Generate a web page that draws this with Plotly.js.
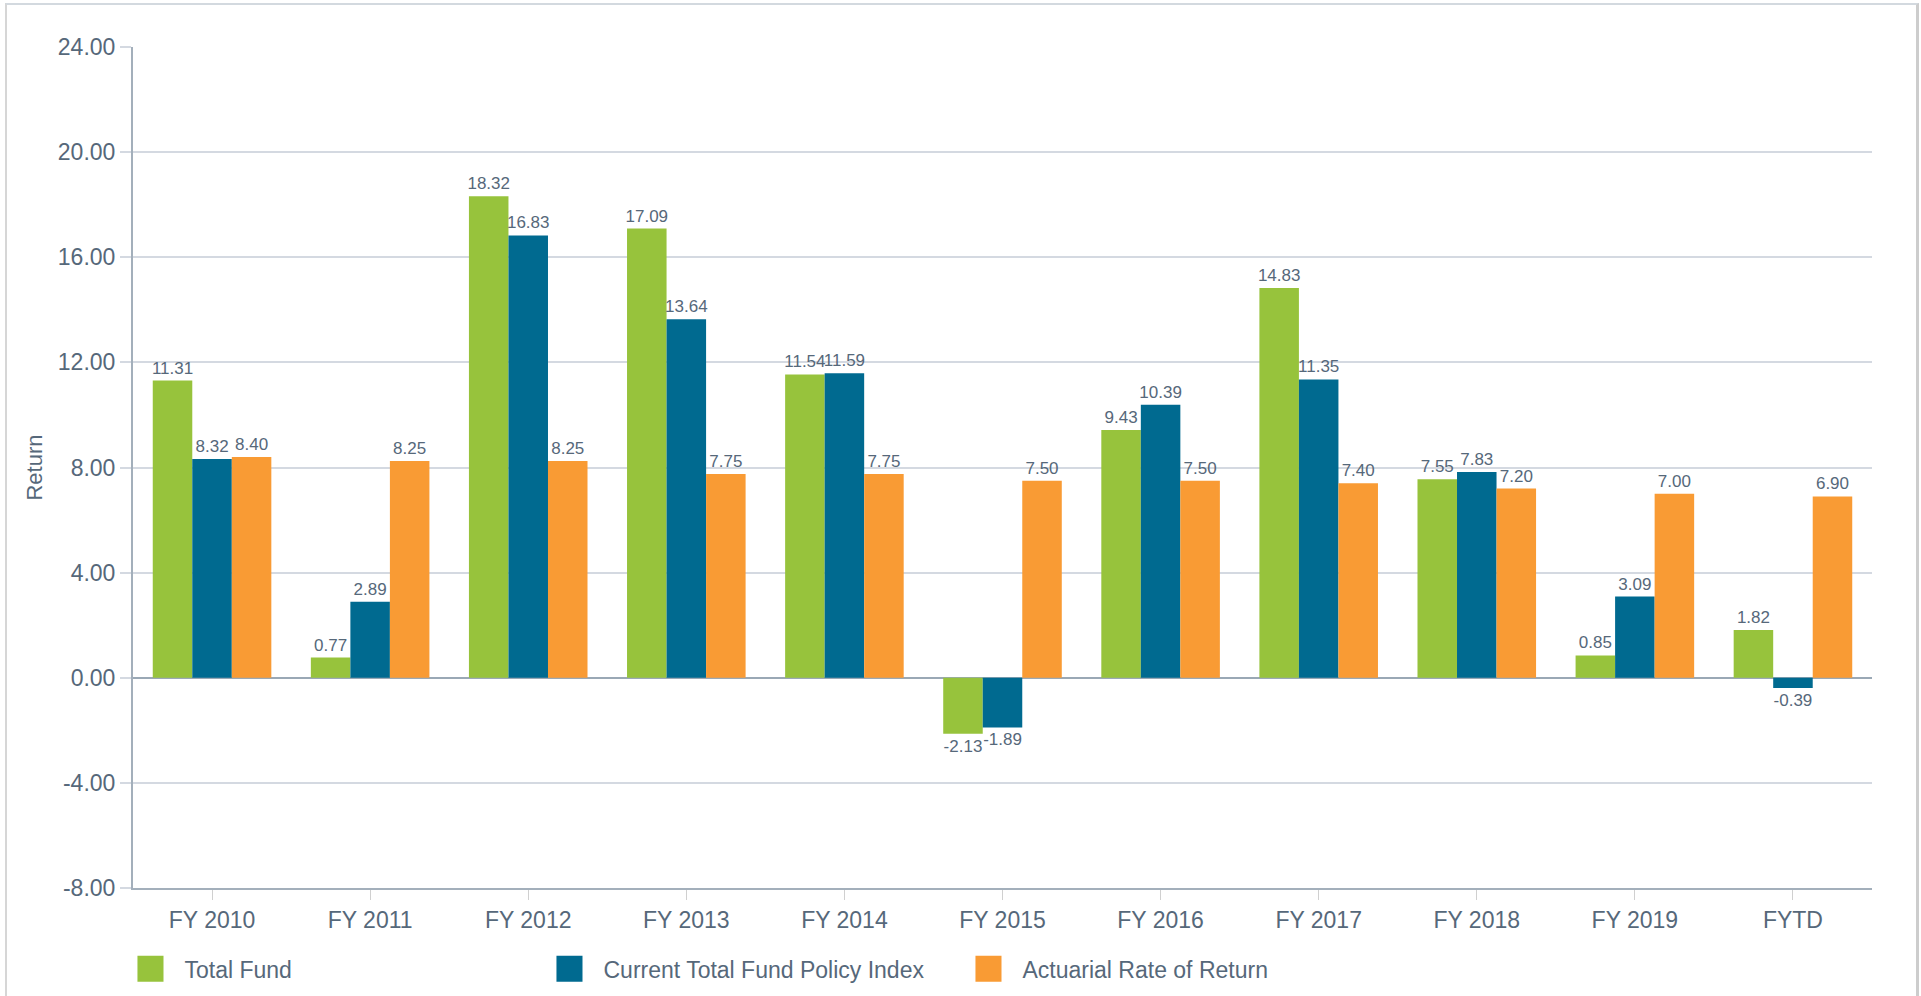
<!DOCTYPE html>
<html>
<head>
<meta charset="utf-8">
<script src="https://cdn.plot.ly/plotly-3.0.1.min.js"></script>
<style>
  html, body { margin: 0; padding: 0; background: #fff; overflow: hidden; }
  #chart { width: 1921px; height: 996px; }
  #frame { position: absolute; left: 5px; top: 3px; width: 1909px; height: 1010px;
           border-left: 2px solid #d6d6d6; border-top: 2px solid #d3d9df; border-right: 3px solid #cdcdcd;
           pointer-events: none; }
  .legend .legendpoints path { transform-box: fill-box; transform-origin: center; transform: translate(34px, 0px) scale(2.17); }
</style>
</head>
<body>
<div id="chart"></div>
<div id="frame"></div>
<script>
const categories = ["FY 2010", "FY 2011", "FY 2012", "FY 2013", "FY 2014", "FY 2015", "FY 2016", "FY 2017", "FY 2018", "FY 2019", "FYTD"];
const totalFund = [11.31, 0.77, 18.32, 17.09, 11.54, -2.13, 9.43, 14.83, 7.55, 0.85, 1.82];
const policyIndex = [8.32, 2.89, 16.83, 13.64, 11.59, -1.89, 10.39, 11.35, 7.83, 3.09, -0.39];
const actuarialRate = [8.40, 8.25, 8.25, 7.75, 7.75, 7.50, 7.50, 7.40, 7.20, 7.00, 6.90];
const seriesNames = ["Total Fund", "Current Total Fund Policy Index", "Actuarial Rate of Return"];
const yTickValues = [-8, -4, 0, 4, 8, 12, 16, 20, 24];
const yTickLabels = ["-8.00", "-4.00", "0.00", "4.00", "8.00", "12.00", "16.00", "20.00", "24.00"];

const textColor = "#56687a";
const fontFamily = "'Liberation Sans', Arial, sans-serif";
const colors = ["#97c33c", "#006a90", "#f99b34"];
const seriesValues = [totalFund, policyIndex, actuarialRate];

const traces = seriesValues.map((vals, i) => ({
  type: "bar",
  name: seriesNames[i],
  x: categories,
  y: vals,
  marker: { color: colors[i] },
  text: vals.map(v => v.toFixed(2)),
  texttemplate: "%{text}",
  textposition: "outside",
  constraintext: "none",
  cliponaxis: false,
  textfont: { family: fontFamily, size: 17, color: textColor },
  hoverinfo: "x+y+name"
}));

const layout = {
  width: 1921,
  height: 996,
  margin: { l: 133, r: 49, t: 47, b: 108, autoexpand: false },
  paper_bgcolor: "#ffffff",
  plot_bgcolor: "#ffffff",
  barmode: "group",
  bargap: 0.25,
  bargroupgap: 0,
  font: { family: fontFamily, color: textColor, size: 23 },
  showlegend: true,
  legend: {
    orientation: "h",
    x: -0.0095, xanchor: "left",
    y: -0.096, yanchor: "middle",
    font: { family: fontFamily, size: 23, color: textColor },
    itemwidth: 58,
    entrywidth: 346,
    entrywidthmode: "pixels",
    traceorder: "normal",
    bgcolor: "rgba(0,0,0,0)"
  },
  xaxis: {
    type: "category",
    tickvals: categories,
    ticktext: categories,
    showgrid: false,
    showline: true,
    linecolor: "#a3afbb",
    linewidth: 2,
    ticks: "outside",
    ticklen: 10,
    tickwidth: 1,
    tickcolor: "#d0d0d0",
    tickfont: { family: fontFamily, size: 23, color: textColor },
    automargin: false,
    fixedrange: true
  },
  yaxis: {
    title: { text: "Return", font: { family: fontFamily, size: 22, color: textColor }, standoff: 9 },
    range: [-8, 24],
    tickvals: yTickValues,
    ticktext: yTickLabels,
    showgrid: true,
    gridcolor: "#d4d9e1",
    gridwidth: 2,
    showline: true,
    linecolor: "#a3afbb",
    linewidth: 2,
    zeroline: true,
    zerolinecolor: "#9aa8b5",
    zerolinewidth: 2,
    ticks: "outside",
    ticklen: 11,
    tickwidth: 2,
    tickcolor: "#d4d9e1",
    tickfont: { family: fontFamily, size: 23, color: textColor },
    automargin: false,
    fixedrange: true
  }
};

Plotly.newPlot("chart", traces, layout, { displayModeBar: false, staticPlot: true });
</script>
</body>
</html>
